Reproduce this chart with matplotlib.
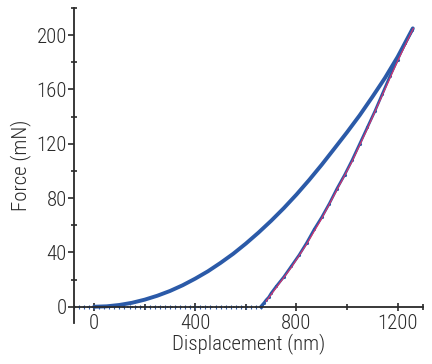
import matplotlib
matplotlib.use('Agg')
import matplotlib.pyplot as plt
import matplotlib.font_manager as fm
from matplotlib.ticker import FixedLocator

def detect_font():
    # prefer a narrow face, the original uses a condensed type
    avail = [f.name for f in fm.fontManager.ttflist]
    for c in ['Liberation Sans Narrow', 'Roboto Condensed', 'DejaVu Sans Condensed']:
        if c in avail:
            return c, 'normal'
    cond = [f for f in fm.fontManager.ttflist
            if f.name == 'DejaVu Sans' and 'Condensed' in f.fname]
    if cond:
        return 'DejaVu Sans', 'condensed'
    return 'DejaVu Sans', 'normal'

FONT, STRETCH = detect_font()
plt.rcParams['font.family'] = [FONT, 'DejaVu Sans']
plt.rcParams['font.stretch'] = STRETCH
plt.rcParams['font.weight'] = 'light'
plt.rcParams['axes.labelweight'] = 'light'

# loading curve (nm, mN)
load_h = [0, 50, 100, 150, 200, 250, 300, 350, 400, 450, 500, 550, 600, 650, 700,
          750, 800, 850, 900, 950, 1000, 1050, 1100, 1150, 1200, 1260]
load_f = [0, 0.3, 1.3, 2.9, 5.2, 8.1, 11.6, 15.8, 20.7, 26.1, 32.3, 39.0, 46.5, 54.6, 63.3,
          72.6, 82.6, 93.3, 104.6, 116.5, 128.5, 141.0, 154.5, 168.5, 184.0, 205.0]

# unloading curve (measured)
unload_h = [1258, 1230, 1200, 1170, 1140, 1110, 1080, 1050, 1020, 990, 960, 930, 900,
            870, 840, 810, 780, 750, 720, 700, 690, 680, 672, 665, 658]
unload_f = [204, 194, 182, 170, 157, 144, 132, 120, 108, 97, 87, 76, 66,
            57, 47, 38, 30, 22, 15, 10, 7, 5, 3, 1.5, 0]

# fit of unloading
fit_h = [1262, 1200, 1140, 1080, 1020, 960, 900, 840, 780, 740, 700, 680]
fit_f = [205, 181, 156, 131, 107, 86, 65, 46, 29, 19, 9, 4]

# baseline points
base_h = [-80, -60, -40, -20, 0, 20, 40, 60, 80, 100, 120, 140, 160, 180, 200, 220, 240,
          260, 280, 300, 320, 340, 360, 380, 400, 420, 440, 460, 480, 500, 520, 540, 560,
          580, 600, 620, 640, 660]
base_f = [0] * len(base_h)

blue = '#2b5aa8'
ink = '#2a2a2a'

fig = plt.figure(figsize=(4.32, 3.64), dpi=100)
ax = fig.add_axes([0.171, 0.1126, 0.808, 0.8654])

ax.plot(base_h, base_f, color=blue, linestyle=':', linewidth=1.2,
        marker='|', markersize=3, markeredgewidth=0.8)
ax.plot(load_h, load_f, color=blue, linewidth=2.8, solid_capstyle='round')
ax.plot(unload_h, unload_f, color=blue, linewidth=2.0, marker='.', markersize=2.5)
ax.plot(fit_h, fit_f, color='#e0306a', linewidth=0.8)

ax.set_xlim(-80, 1300)
ax.set_ylim(-12, 220)

ax.spines['top'].set_visible(False)
ax.spines['right'].set_visible(False)
ax.spines['bottom'].set_position(('data', 0))
for s in ('left', 'bottom'):
    ax.spines[s].set_linewidth(1.3)
    ax.spines[s].set_color(ink)

ax.set_xticks([0, 400, 800, 1200])
ax.xaxis.set_minor_locator(FixedLocator([200, 600, 1000, 1300]))
ax.set_yticks([0, 40, 80, 120, 160, 200])
ax.yaxis.set_minor_locator(FixedLocator([20, 60, 100, 140, 180, 220]))

ax.tick_params(axis='x', which='major', direction='inout', length=6, width=1.2,
               labelsize=15, pad=2, colors=ink)
ax.tick_params(axis='x', which='minor', direction='inout', length=5, width=1.2, colors=ink)
ax.tick_params(axis='y', which='major', direction='out', length=4, width=1.2,
               labelsize=15, pad=1, colors=ink)
ax.tick_params(axis='y', which='minor', direction='inout', length=5, width=1.2, colors=ink)

ax.set_xlabel('Displacement (nm)', fontsize=15, color=ink, labelpad=0, fontweight='light')
ax.set_ylabel('Force (mN)', fontsize=15, color=ink, labelpad=4, fontweight='light')

plt.savefig('out.png', dpi=100)
